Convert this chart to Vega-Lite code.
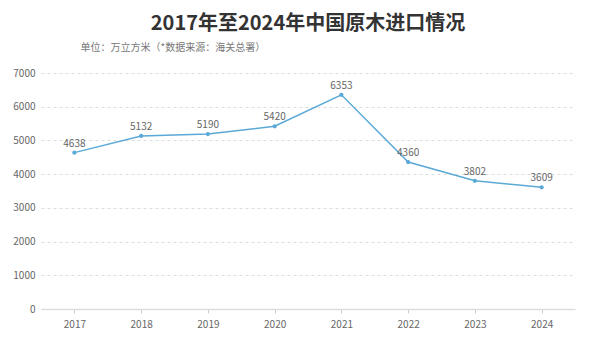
{
  "$schema": "https://vega.github.io/schema/vega-lite/v6.json",
  "width": 534,
  "height": 236,
  "autosize": {"type": "none"},
  "padding": {"left": 41, "top": 73, "right": 25, "bottom": 36},
  "background": "white",
  "config": {
    "font": "Noto Sans CJK SC",
    "view": {"stroke": null}
  },
  "title": {
    "text": "2017年至2024年中国原木进口情况",
    "fontSize": 20,
    "fontWeight": "bold",
    "color": "#333333",
    "anchor": "middle",
    "offset": 8
  },
  "data": {
    "values": [
      {"year": "2017", "value": 4638},
      {"year": "2018", "value": 5132},
      {"year": "2019", "value": 5190},
      {"year": "2020", "value": 5420},
      {"year": "2021", "value": 6353},
      {"year": "2022", "value": 4360},
      {"year": "2023", "value": 3802},
      {"year": "2024", "value": 3609}
    ]
  },
  "encoding": {
    "x": {
      "field": "year",
      "type": "ordinal",
      "scale": {"type": "point", "padding": 0.5},
      "axis": {
        "title": null,
        "labelAngle": 0,
        "labelColor": "#666666",
        "labelFontSize": 10,
        "labelPadding": 6,
        "domainColor": "#dddddd",
        "domainWidth": 1.5,
        "tickColor": "#cccccc",
        "tickSize": 4,
        "grid": false
      }
    },
    "y": {
      "field": "value",
      "type": "quantitative",
      "scale": {"domain": [0, 7000]},
      "axis": {
        "values": [0, 1000, 2000, 3000, 4000, 5000, 6000, 7000],
        "format": "d",
        "title": "单位：万立方米（*数据来源：海关总署）",
        "titleAngle": 0,
        "titleAlign": "left",
        "titleBaseline": "middle",
        "titleX": 39,
        "titleY": -26,
        "titleFontSize": 10,
        "titleFontWeight": "normal",
        "titleColor": "#777777",
        "labelColor": "#666666",
        "labelFontSize": 10,
        "labelPadding": 6,
        "domain": false,
        "ticks": false,
        "grid": true,
        "gridColor": "#dddddd",
        "gridDash": [3, 3]
      }
    }
  },
  "layer": [
    {
      "mark": {"type": "line", "color": "#5aa9d6", "strokeWidth": 1.5}
    },
    {
      "mark": {"type": "point", "filled": true, "color": "#5aa9d6", "size": 18, "opacity": 1}
    },
    {
      "mark": {"type": "text", "dy": -9, "fontSize": 10, "color": "#666666"},
      "encoding": {"text": {"field": "value", "type": "quantitative", "format": "d"}}
    }
  ]
}
